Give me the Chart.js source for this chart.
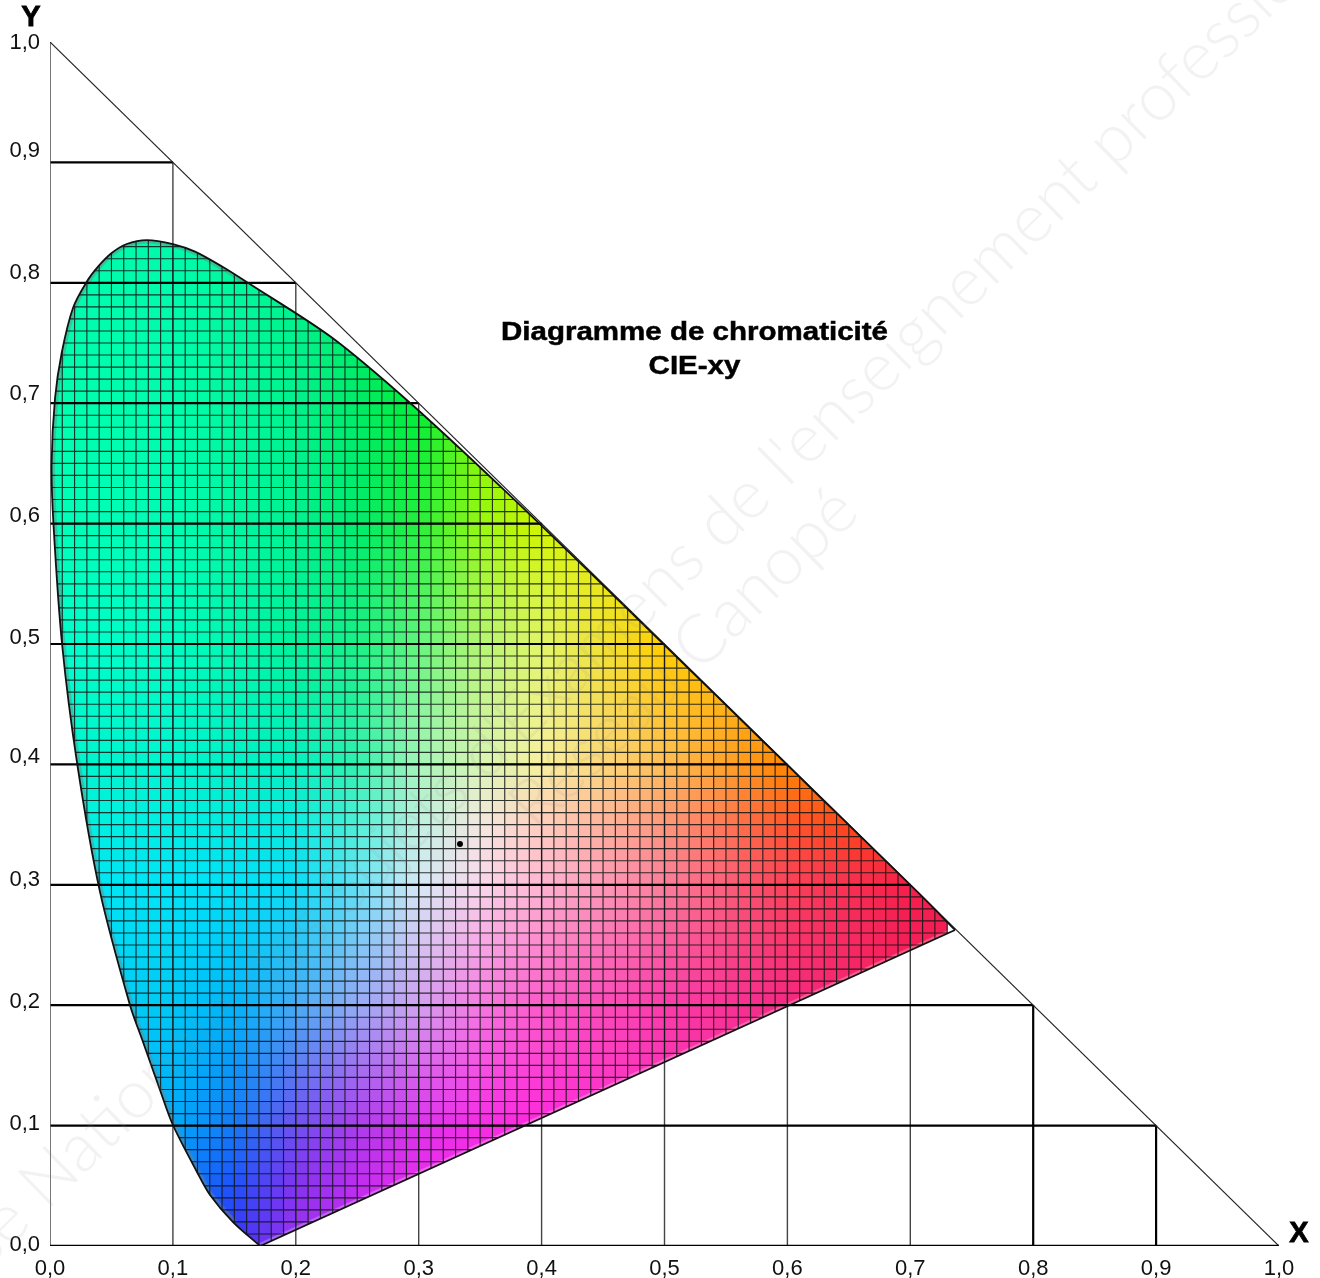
<!DOCTYPE html>
<html><head><meta charset="utf-8">
<style>html,body{margin:0;padding:0;background:#fff}canvas{display:block}</style>
<script src="https://cdn.jsdelivr.net/npm/chart.js@4"></script>
</head><body><canvas id="c" width="1320" height="1278"></canvas>
<script>
const tickValues=[0,0.1,0.2,0.3,0.4,0.5,0.6,0.7,0.8,0.9,1];
const tickLabels=['0,0','0,1','0,2','0,3','0,4','0,5','0,6','0,7','0,8','0,9','1,0'];
const locusX=[0.171,0.1489,0.1302,0.1196,0.100,0.0895,0.0757,0.0651,0.0405,0.0222,0.0098,0.0028,0.0013,0.0041,0.0095,0.0187,0.0299,0.0391,0.0502,0.0624,0.0787,0.1000,0.1180,0.1400,0.1610,0.2296,0.2960,0.3731,0.4441,0.5125,0.5752,0.6270,0.6658,0.7079,0.7364];
const locusY=[0,0.0199,0.0424,0.0615,0.1005,0.1296,0.1694,0.2000,0.2950,0.4000,0.5000,0.6000,0.6500,0.7043,0.7417,0.7791,0.8009,0.8134,0.8247,0.8322,0.8355,0.8322,0.8259,0.8135,0.8000,0.7543,0.6975,0.6245,0.5547,0.4866,0.4242,0.3725,0.3340,0.2920,0.2625];
const whitePoint=[0.3336,0.3339];
const gridStep=0.01;
// colours at these chromaticity nodes
const colorXs=[0,0.1,0.15,0.2,0.25,0.3,0.35,0.4,0.5,0.6,0.7,0.8];
const colorYs=[0,0.05,0.1,0.2,0.3,0.35,0.4,0.5,0.6,0.7,0.85];
const colorRows=[
[[0,170,250],[20,100,250],[60,50,245],[160,50,240],[210,45,240],[240,45,235],[250,40,230],[255,40,220],[250,40,190],[250,40,150],[245,30,110],[245,30,110]],
[[0,175,250],[10,130,250],[30,80,250],[130,50,240],[190,45,240],[235,45,235],[250,40,230],[255,40,220],[250,40,190],[250,40,150],[245,30,100],[245,30,100]],
[[0,195,250],[0,170,250],[20,120,245],[110,80,240],[170,60,235],[220,50,235],[245,45,230],[255,40,220],[250,45,190],[250,40,150],[245,30,100],[245,30,100]],
[[0,210,245],[0,200,245],[0,180,250],[70,170,245],[150,170,245],[210,160,240],[245,120,225],[250,90,200],[250,60,170],[245,40,130],[245,30,100],[245,30,100]],
[[0,230,240],[0,228,248],[0,225,248],[10,220,245],[100,225,245],[215,232,245],[250,215,235],[255,180,210],[250,125,155],[250,65,90],[245,30,75],[245,30,75]],
[[0,240,225],[0,238,228],[0,236,225],[10,235,225],[80,240,215],[190,240,225],[245,232,225],[255,205,190],[255,150,125],[255,85,45],[255,55,5],[255,55,5]],
[[0,245,205],[0,245,208],[0,242,198],[5,240,192],[50,240,175],[165,245,185],[215,245,180],[248,240,160],[255,190,85],[255,135,0],[255,100,0],[255,100,0]],
[[0,255,205],[0,252,195],[0,248,175],[0,242,155],[25,240,135],[100,245,125],[180,245,115],[225,245,105],[255,205,0],[255,175,0],[255,175,0],[255,175,0]],
[[0,255,185],[0,252,180],[0,248,162],[0,242,145],[0,235,110],[35,240,60],[150,248,15],[210,245,0],[245,232,0],[245,232,0],[245,232,0],[245,232,0]],
[[0,255,175],[0,252,172],[0,248,158],[0,242,140],[0,235,105],[0,238,55],[130,245,10],[190,245,0],[190,245,0],[190,245,0],[190,245,0],[190,245,0]],
[[0,250,175],[0,250,172],[0,248,158],[0,242,140],[0,235,105],[0,238,55],[130,245,10],[190,245,0],[190,245,0],[190,245,0],[190,245,0],[190,245,0]]
];

const poly=locusX.map((x,i)=>[x,locusY[i]]);
function inside(x,y){let c=false;for(let i=0,j=poly.length-1;i<poly.length;j=i++){const [xi,yi]=poly[i],[xj,yj]=poly[j];if((yi>y)!==(yj>y)&&x<(xj-xi)*(y-yi)/(yj-yi)+xi)c=!c;}return c;}
function seg(a,v){let i=0;while(i<a.length-2&&v>a[i+1])i++;return [i,Math.min(1,Math.max(0,(v-a[i])/(a[i+1]-a[i])))];}
function cellColor(x,y){
  const [i,u]=seg(colorXs,x),[j,v]=seg(colorYs,y);
  const r=colorRows[j],s=colorRows[j+1],out=[0,1,2].map(k=>Math.round((r[i][k]*(1-u)+r[i+1][k]*u)*(1-v)+(s[i][k]*(1-u)+s[i+1][k]*u)*v));
  return `rgb(${out[0]},${out[1]},${out[2]})`;
}
const cells=[],cellColors=[];
for(let i=0;i<76;i++)for(let j=0;j<85;j++){
  const x0=i*gridStep,y0=j*gridStep,x1=x0+gridStep,y1=y0+gridStep;
  const m=0.006;
  if(inside(x0-m,y0-m)||inside(x1+m,y0-m)||inside(x0-m,y1+m)||inside(x1+m,y1+m)||inside((x0+x1)/2,(y0+y1)/2)){
    const cx=(x0+x1)/2,cy=(y0+y1)/2;cells.push({x:cx,y:cy});cellColors.push(cellColor(cx,cy));
  }
}
const fine=[];
for(let i=1;i<76;i++){fine.push({x:i*gridStep,y:0},{x:i*gridStep,y:0.85},{x:NaN,y:NaN});}
for(let j=1;j<85;j++){fine.push({x:0,y:j*gridStep},{x:0.76,y:j*gridStep},{x:NaN,y:NaN});}
const horiz=[];
for(let k=1;k<=9;k++){horiz.push({x:0,y:tickValues[k]},{x:1-tickValues[k],y:tickValues[k]},{x:NaN,y:NaN});}
const vertThin=[];
for(let k=1;k<=7;k++){vertThin.push({x:tickValues[k],y:0},{x:tickValues[k],y:1-tickValues[k]},{x:NaN,y:NaN});}
const vertThick=[];
for(let k=8;k<=9;k++){vertThick.push({x:tickValues[k],y:0},{x:tickValues[k],y:1-tickValues[k]},{x:NaN,y:NaN});}
const locusLine=poly.map(p=>({x:p[0],y:p[1]}));
const purpleLine=[locusLine[locusLine.length-1],locusLine[0]];
const rim=locusLine.slice(1,25);

const base={showLine:true,pointRadius:0,fill:false,tension:0,spanGaps:false};
const yLabelShift=[-1,-2,-3,-5,-7,-6,-8,-9,-10,-11,1];
const LOCUS_INDEX=1;

const clipPlugin={id:'locusClip',
  beforeDatasetDraw(chart,a){
    if(!chart.data.datasets[a.index].clipToLocus)return;
    const ctx=chart.ctx,line=chart.getDatasetMeta(LOCUS_INDEX).dataset;
    line.updateControlPoints(chart.chartArea,'x');
    ctx.save();ctx.beginPath();line.path(ctx);ctx.closePath();ctx.clip();
  },
  afterDatasetDraw(chart,a){ if(chart.data.datasets[a.index].clipToLocus)chart.ctx.restore(); }
};
const textPlugin={id:'texts',
  beforeDraw(chart){
    const items=chart.scales.y.getLabelItems();
    if(!items._shifted){items.forEach((it,i)=>{it.options.translation[1]+=yLabelShift[i];});items._shifted=true;}
  },
  afterDraw(chart){
    const ctx=chart.ctx;ctx.save();
    ctx.fillStyle='#000';ctx.strokeStyle='#000';ctx.lineWidth=0.5;ctx.textAlign='center';ctx.textBaseline='middle';
    ctx.save();ctx.translate(694.5,0);ctx.scale(1.135,1);
    ctx.font='bold 26px "Liberation Sans"';
    ctx.fillText('Diagramme de chromaticité',0,333);ctx.strokeText('Diagramme de chromaticité',0,333);
    ctx.fillText('CIE-xy',0,367);ctx.strokeText('CIE-xy',0,367);
    ctx.restore();
    ctx.font='bold 29px "Liberation Sans"';ctx.lineWidth=0.8;
    ctx.fillText('Y',31,18);ctx.strokeText('Y',31,18);
    ctx.fillText('X',1299,1234);ctx.strokeText('X',1299,1234);
    ctx.restore();
    ctx.save();
    ctx.fillStyle='rgba(150,150,150,0.12)';ctx.textBaseline='alphabetic';
    ctx.font='300 68px Lato';
    const rot=-44.3*Math.PI/180;
    ctx.save();ctx.translate(722,552);ctx.rotate(rot);ctx.textAlign='left';
    ctx.fillText("Base Nationale des Sujets d'Examens de l'enseignement professionnel",-ctx.measureText("Base Nationale des Sujets d'Examens ").width,0);
    ctx.restore();
    ctx.save();ctx.translate(862,515);ctx.rotate(rot);ctx.textAlign='right';
    ctx.fillText('Réseau Canopé',0,0);
    ctx.restore();
    ctx.restore();
  }
};
new Chart(document.getElementById('c'),{
  type:'scatter',
  data:{datasets:[
    {label:'Point blanc',data:[{x:whitePoint[0],y:whitePoint[1]}],pointRadius:3,pointBackgroundColor:'#000',pointBorderWidth:0,order:0},
    {...base,label:'Locus',data:locusLine,borderColor:'#111',borderWidth:1.8,tension:0.3,order:1},
    {...base,label:'Droite des pourpres',data:purpleLine,borderColor:'#111',borderWidth:1.8,order:1},
    {...base,label:'Axe X',data:[{x:0,y:0},{x:1,y:0}],borderColor:'#000',borderWidth:2.4,order:2},
    {...base,label:'Hypoténuse',data:[{x:0,y:1},{x:1,y:0}],borderColor:'#222',borderWidth:1.2,order:2},
    {...base,label:'Axe Y',data:[{x:0,y:0},{x:0,y:1}],borderColor:'#555',borderWidth:1.6,order:2},
    {...base,label:'Majeures H',data:horiz,borderColor:'#000',borderWidth:2.2,order:3},
    {...base,label:'Majeures V fines',data:vertThin,borderColor:'#444',borderWidth:1.4,order:5.5},
    {...base,label:'Majeures V',data:vertThick,borderColor:'#000',borderWidth:2.2,order:5.5},
    {...base,label:'Grille',data:fine,borderColor:'rgba(15,20,20,0.85)',borderWidth:1.15,clipToLocus:true,order:4},
    {...base,label:'Bord',data:rim,tension:0.3,borderColor:'rgba(110,130,130,0.45)',borderWidth:7,clipToLocus:true,order:4.5},
    {...base,label:'Bord bas',data:purpleLine,borderColor:'rgba(255,255,255,0.25)',borderWidth:6,clipToLocus:true,order:4.5},
    {label:'Cellules',data:cells,pointStyle:'rect',pointRadius:9.2,pointBorderWidth:0,pointBackgroundColor:cellColors,clipToLocus:true,order:7}
  ]},
  options:{
    responsive:false,animation:false,events:[],
    layout:{padding:{left:0,top:42,right:41,bottom:0}},
    plugins:{legend:{display:false},tooltip:{enabled:false},title:{display:false}},
    scales:{
      x:{type:'linear',min:0,max:1,grid:{display:false,drawTicks:false},border:{display:false},
        afterFit(s){s.height=32;},
        ticks:{stepSize:0.1,autoSkip:false,maxRotation:0,padding:10,color:'#111',font:{family:'Liberation Sans',size:22},callback:(v,i)=>tickLabels[i]}},
      y:{type:'linear',min:0,max:1,grid:{display:false,drawTicks:false},border:{display:false},
        afterFit(s){s.width=50;},
        ticks:{stepSize:0.1,autoSkip:false,maxRotation:0,padding:10,color:'#111',font:{family:'Liberation Sans',size:22},callback:(v,i)=>tickLabels[i]}}
    }
  },
  plugins:[clipPlugin,textPlugin]
});
</script></body></html>
